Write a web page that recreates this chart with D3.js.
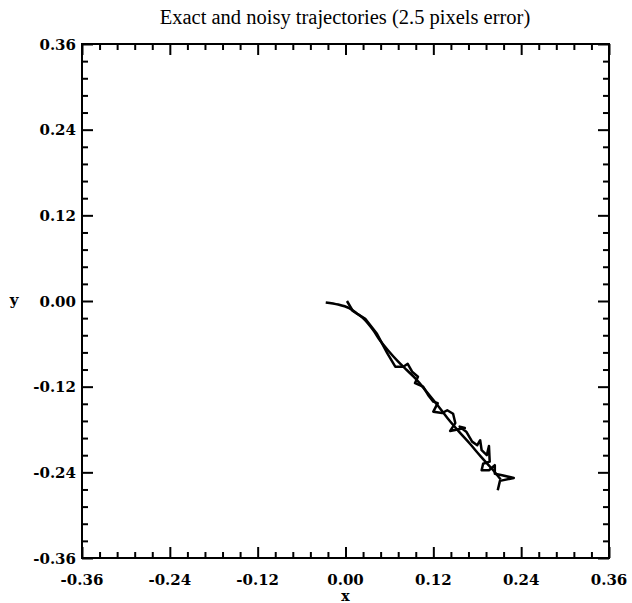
<!DOCTYPE html>
<html lang="en">
<head>
    <meta charset="UTF-8">
    <script src="https://d3js.org/d3.v7.min.js"></script>
    <title>Exact and noisy trajectories</title>
    <style>
        body { margin: 0; background: #fff; }
        svg { display: block; }
        .lbl { font-family: "DejaVu Serif", serif; font-weight: bold; font-size: 15px; fill: #000; }
        .ttl { font-family: "Liberation Serif", serif; font-size: 20.5px; fill: #000; }
        .axis path, .axis line { stroke: #000; stroke-width: 2px; }
    </style>
</head>
<body>
<div id="container"></div>
<script>
    // axis ticks
    const majorTicks = [-0.36, -0.24, -0.12, 0, 0.12, 0.24, 0.36]
    const tickLabels = ["-0.36", "-0.24", "-0.12", "0.00", "0.12", "0.24", "0.36"]

    // exact trajectory (smooth)
    const exactX = [-0.027, -0.010, 0.005, 0.015, 0.025, 0.038, 0.047, 0.058, 0.072, 0.084, 0.097, 0.110, 0.125, 0.140, 0.155, 0.170, 0.185, 0.200, 0.212]
    const exactY = [-0.002, -0.005, -0.010, -0.017, -0.025, -0.041, -0.055, -0.069, -0.085, -0.097, -0.110, -0.126, -0.145, -0.165, -0.183, -0.200, -0.218, -0.235, -0.250]

    // noisy trajectory (2.5 pixels error)
    const noisyX = [0.002, 0.010, 0.027, 0.043, 0.057, 0.068, 0.079, 0.085, 0.091, 0.099, 0.095, 0.106, 0.113, 0.120, 0.126, 0.120, 0.132, 0.139, 0.147, 0.150, 0.143, 0.163, 0.156, 0.165, 0.173, 0.180, 0.184, 0.186, 0.193, 0.196, 0.197, 0.188, 0.186, 0.196, 0.204, 0.204, 0.214, 0.230, 0.211, 0.208]
    const noisyY = [0.000, -0.014, -0.025, -0.046, -0.073, -0.092, -0.092, -0.088, -0.099, -0.106, -0.115, -0.120, -0.132, -0.141, -0.143, -0.155, -0.157, -0.153, -0.158, -0.171, -0.182, -0.178, -0.176, -0.183, -0.197, -0.202, -0.195, -0.209, -0.216, -0.203, -0.225, -0.228, -0.237, -0.237, -0.230, -0.242, -0.244, -0.248, -0.252, -0.265]

    const W = 632, H = 603
    const m = {left: 82, right: 609, top: 44, bottom: 558}

    const x = d3.scaleLinear().domain([-0.36, 0.36]).range([m.left, m.right])
    const y = d3.scaleLinear().domain([-0.36, 0.36]).range([m.bottom, m.top])

    const minorTicks = d3.range(-0.36, 0.3601, 0.024).filter(v => !majorTicks.some(t => Math.abs(t - v) < 1e-6))

    const svg = d3.select("#container").append("svg")
        .attr("width", W)
        .attr("height", H)

    // ticks on all four sides, pointing inward
    function addAxis(axisFn, tf, size, vals) {
        svg.append("g").attr("class", "axis")
            .attr("transform", tf)
            .call(axisFn.tickValues(vals).tickSize(size).tickFormat(""))
            .call(g => g.select(".domain").remove())
    }
    addAxis(d3.axisBottom(x), `translate(0,${m.bottom})`, -11, majorTicks)
    addAxis(d3.axisBottom(x), `translate(0,${m.bottom})`, -6, minorTicks)
    addAxis(d3.axisTop(x), `translate(0,${m.top})`, -11, majorTicks)
    addAxis(d3.axisTop(x), `translate(0,${m.top})`, -6, minorTicks)
    addAxis(d3.axisLeft(y), `translate(${m.left},0)`, -11, majorTicks)
    addAxis(d3.axisLeft(y), `translate(${m.left},0)`, -6, minorTicks)
    addAxis(d3.axisRight(y), `translate(${m.right},0)`, -11, majorTicks)
    addAxis(d3.axisRight(y), `translate(${m.right},0)`, -6, minorTicks)

    svg.append("rect")
        .attr("x", m.left).attr("y", m.top)
        .attr("width", m.right - m.left).attr("height", m.bottom - m.top)
        .attr("fill", "none").attr("stroke", "#000").attr("stroke-width", 2)

    // tick labels
    svg.selectAll(".xl").data(majorTicks).enter().append("text")
        .attr("class", "lbl")
        .attr("x", d => x(d))
        .attr("y", m.bottom + 27)
        .attr("text-anchor", "middle")
        .text((d, i) => tickLabels[i])

    svg.selectAll(".yl").data(majorTicks).enter().append("text")
        .attr("class", "lbl")
        .attr("x", m.left - 6)
        .attr("y", d => y(d) + 5.5)
        .attr("text-anchor", "end")
        .text((d, i) => tickLabels[i])

    svg.append("text").attr("class", "lbl")
        .style("font-size", "14px")
        .attr("x", x(0)).attr("y", 601)
        .attr("text-anchor", "middle").text("x")
    svg.append("text").attr("class", "lbl")
        .attr("x", 14).attr("y", y(0) + 4)
        .attr("text-anchor", "middle").text("y")

    svg.append("text").attr("class", "ttl")
        .attr("x", 345).attr("y", 24)
        .attr("text-anchor", "middle")
        .text("Exact and noisy trajectories (2.5 pixels error)")

    // trajectories
    const line = d3.line().x(d => x(d[0])).y(d => y(d[1]))

    svg.append("path")
        .datum(d3.zip(exactX, exactY))
        .attr("d", line.curve(d3.curveCatmullRom))
        .attr("fill", "none").attr("stroke", "#000").attr("stroke-width", 2.5)

    svg.append("path")
        .datum(d3.zip(noisyX, noisyY))
        .attr("d", line.curve(d3.curveLinear))
        .attr("fill", "none").attr("stroke", "#000").attr("stroke-width", 2.5)
        .attr("stroke-linejoin", "round")
</script>
</body>
</html>
